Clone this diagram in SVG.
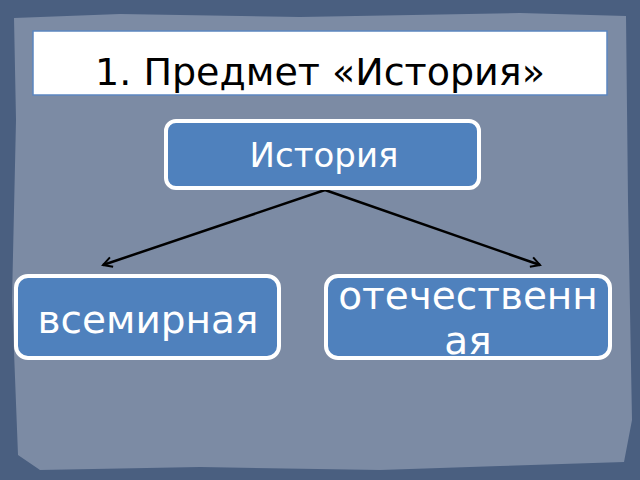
<svg xmlns="http://www.w3.org/2000/svg" width="640" height="480" viewBox="0 0 640 480">
<defs>
<style>
.node rect{fill:#4f81bd;stroke:#fff;stroke-width:4}
.lbl{font-family:"DejaVu Sans","Noto Sans",sans-serif;fill:#fff;text-anchor:middle}
.conn line{stroke:#000;stroke-width:2.5;fill:none}
</style>
<marker id="arr" viewBox="0 0 12 12" refX="10" refY="6" markerWidth="12" markerHeight="12" markerUnits="userSpaceOnUse" orient="auto">
<path d="M1,1 L10,6 L1,11" fill="none" stroke="#000" stroke-width="2"/>
</marker>
</defs>
<rect x="0" y="0" width="640" height="480" fill="#4a5f80"/>
<path d="M14,18 L120,14 L300,17 L520,13 L626,16 L628,200 L632,420 L624,462 L500,466 L380,470 L200,467 L40,470 L18,455 L12,300 L16,120 Z" fill="#7c8ba4"/>
<g id="title">
<rect x="33" y="31" width="574" height="64" fill="#fff" stroke="#5b86c0" stroke-width="1.5"/>
<text x="320" y="85" font-family="DejaVu Sans,'Noto Sans',sans-serif" font-size="38" fill="#000" text-anchor="middle">1. Предмет «История»</text>
</g>
<g class="conn">
<line x1="325" y1="190" x2="103" y2="265" marker-end="url(#arr)"/>
<line x1="325" y1="190" x2="540" y2="265" marker-end="url(#arr)"/>
</g>
<g id="history" class="node">
<rect x="166" y="121" width="313" height="67" rx="10"/>
<text class="lbl" x="324" y="167" font-size="34">История</text>
</g>
<g id="world" class="node">
<rect x="16" y="276" width="263" height="82" rx="12"/>
<text class="lbl" x="148" y="333" font-size="39">всемирная</text>
</g>
<g id="national" class="node">
<rect x="326" y="276" width="284" height="82" rx="12"/>
<text class="lbl" x="468" y="309" font-size="39">отечественн</text>
<text class="lbl" x="468" y="354" font-size="39">ая</text>
</g>
</svg>
